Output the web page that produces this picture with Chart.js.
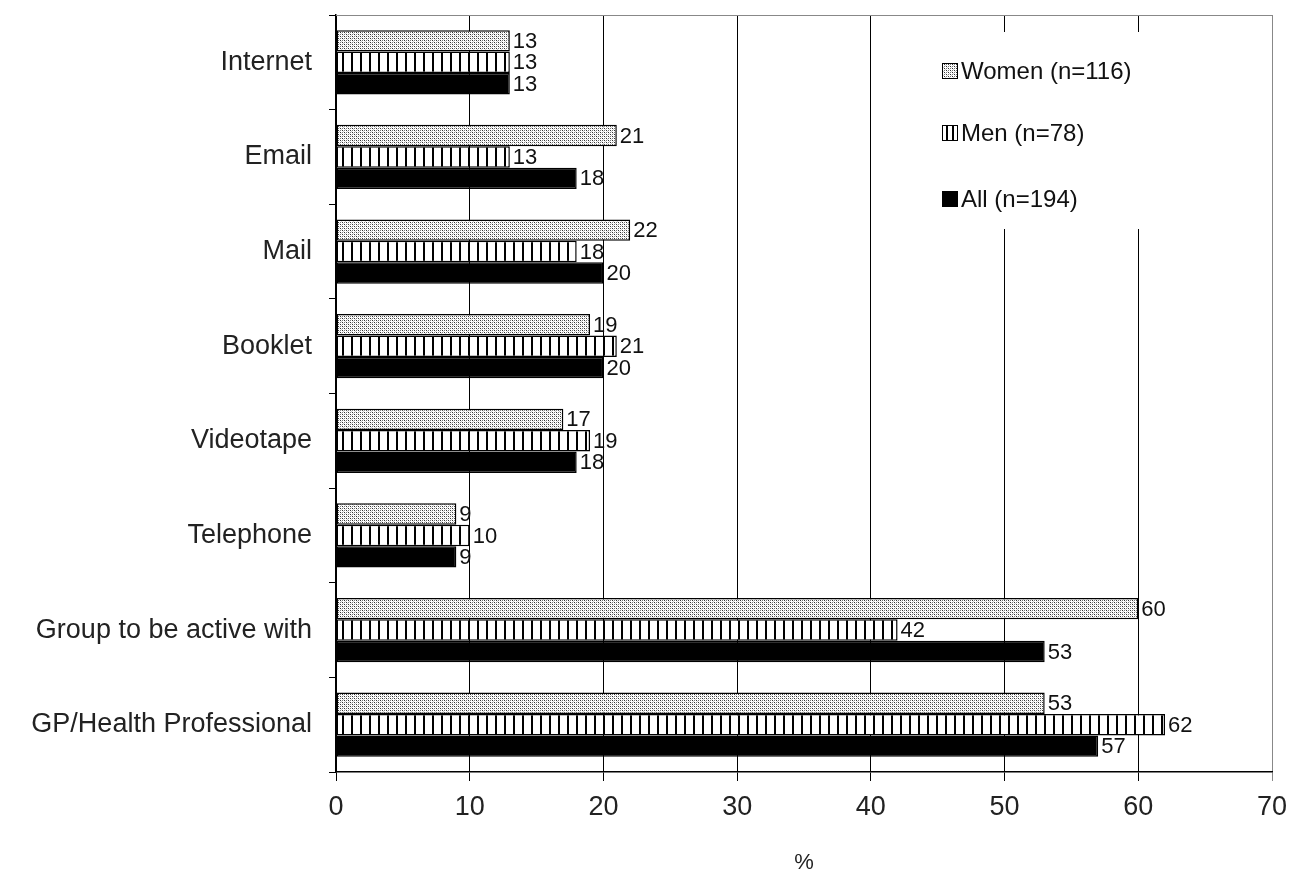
<!DOCTYPE html>
<html>
<head>
<meta charset="utf-8">
<script src="https://cdn.jsdelivr.net/npm/chart.js@4/dist/chart.umd.min.js"></script>
<style>
  body { margin: 0; background: #fff; }
  #wrap { width: 1292px; height: 876px; }
</style>
</head>
<body>
<div id="wrap"><canvas id="myChart" width="1292" height="876"></canvas></div>
<script>
// data
var categories = ["Internet", "Email", "Mail", "Booklet", "Videotape", "Telephone", "Group to be active with", "GP/Health Professional"];
var women = [13, 21, 22, 19, 17, 9, 60, 53];
var men = [13, 13, 18, 21, 19, 10, 42, 62];
var all = [13, 18, 20, 20, 18, 9, 53, 57];
var seriesLabels = ["Women (n=116)", "Men (n=78)", "All (n=194)"];
var xTicks = [0, 10, 20, 30, 40, 50, 60, 70];

var fontFam = "'Liberation Sans', Arial, sans-serif";

// fill patterns
function makePattern(kind) {
  var c = document.createElement("canvas");
  var g = c.getContext("2d");
  if (kind == "dots") {
    c.width = 4; c.height = 4;
    g.fillStyle = "#fff";
    g.fillRect(0, 0, 4, 4);
    g.fillStyle = "#333";
    g.fillRect(0, 0, 1, 1);
    g.fillRect(2, 2, 1, 1);
    g.fillStyle = "#777";
    g.fillRect(2, 0, 1, 1);
    g.fillRect(0, 2, 1, 1);
    g.fillStyle = "#ccc";
    g.fillRect(1, 1, 1, 1);
    g.fillRect(3, 3, 1, 1);
  } else {
    c.width = 9; c.height = 4;
    g.fillStyle = "#fff";
    g.fillRect(0, 0, 9, 4);
    g.fillStyle = "#000";
    g.fillRect(0, 0, 2, 4);
  }
  return document.createElement("canvas").getContext("2d").createPattern(c, "repeat");
}
var dotFill = makePattern("dots");
var stripeFill = makePattern("stripes");
var fills = [dotFill, "#fff", "#000"];

// value labels at bar ends
const barLabels = {
  id: "barLabels",
  afterDatasetsDraw(chart) {
    const ctx = chart.ctx;
    ctx.save();
    ctx.font = "22px " + fontFam;
    ctx.fillStyle = "#111";
    ctx.textBaseline = "middle";
    ctx.textAlign = "left";
    chart.data.datasets.forEach(function (ds, i) {
      chart.getDatasetMeta(i).data.forEach(function (el, j) {
        ctx.fillText(ds.data[j], el.x + 3, el.y + 1);
      });
    });
    ctx.restore();
  }
};

// frame top line + legend inside the plot
const frameLegend = {
  id: "frameLegend",
  afterDraw(chart) {
    const ctx = chart.ctx;
    const a = chart.chartArea;
    ctx.save();
    ctx.strokeStyle = "#888";
    ctx.lineWidth = 1;
    ctx.beginPath();
    ctx.moveTo(a.left, a.top + 0.5);
    ctx.lineTo(a.right, a.top + 0.5);
    ctx.stroke();

    // legend box, white, hides the grid lines behind it
    ctx.fillStyle = "#fff";
    ctx.fillRect(925, 32, 235, 197);

    var ys = [71, 133, 199];
    ctx.font = "24px " + fontFam;
    ctx.textBaseline = "middle";
    seriesLabels.forEach(function (lab, i) {
      ctx.fillStyle = fills[i];
      ctx.fillRect(942, ys[i] - 8, 16, 16);
      ctx.strokeStyle = "#000";
      ctx.lineWidth = 1;
      ctx.strokeRect(942.5, ys[i] - 7.5, 15, 15);
      if (i == 1) {
        // stripes in the Men swatch
        ctx.fillStyle = "#000";
        ctx.fillRect(946, ys[i] - 7, 2, 14);
        ctx.fillRect(952, ys[i] - 7, 2, 14);
      }
      ctx.fillStyle = "#111";
      ctx.fillText(lab, 961, ys[i] + 1);
    });
    ctx.restore();
  }
};

const ctx = document.getElementById("myChart");
new Chart(ctx, {
  type: "bar",
  data: {
    labels: categories,
    datasets: [
      { label: seriesLabels[0], data: women, backgroundColor: dotFill },
      { label: seriesLabels[1], data: men, backgroundColor: stripeFill },
      { label: seriesLabels[2], data: all, backgroundColor: "#000" },
    ],
  },
  options: {
    indexAxis: "y",
    responsive: false,
    animation: false,
    layout: { padding: { top: 15, right: 20, left: 0, bottom: 0 } },
    datasets: {
      bar: {
        borderColor: "#000",
        borderWidth: 1.5,
        borderSkipped: false,
        categoryPercentage: 0.68,
        barPercentage: 1.0,
      }
    },
    plugins: {
      legend: { display: false },
      tooltip: { enabled: false },
    },
    scales: {
      x: {
        min: 0,
        max: 70,
        afterBuildTicks: function (scale) {
          scale.ticks = xTicks.map(function (v) { return { value: v }; });
        },
        afterFit: function (scale) {
          scale.height = 104;
          scale.paddingLeft = 0;
          scale.paddingRight = 0;
        },
        grid: {
          color: function (c) { return c.tick && c.tick.value == 70 ? "#888" : "#000"; },
          lineWidth: 1,
          tickLength: 9,
        },
        border: { display: true, color: "#000", width: 1.5 },
        ticks: {
          padding: 10,
          color: "#222",
          font: { family: fontFam, size: 27 },
        },
        title: {
          display: true,
          text: "%",
          color: "#222",
          font: { family: fontFam, size: 22 },
          padding: { top: 0, bottom: 0 },
        },
      },
      y: {
        afterFit: function (scale) {
          scale.width = 336;
          scale.paddingTop = 0;
          scale.paddingBottom = 0;
        },
        grid: {
          drawOnChartArea: false,
          drawTicks: true,
          tickLength: 7,
          color: "#000",
        },
        border: { display: true, color: "#000", width: 1.5 },
        ticks: {
          padding: 17,
          color: "#222",
          font: { family: fontFam, size: 27 },
        },
      },
    },
  },
  plugins: [barLabels, frameLegend],
});
</script>
</body>
</html>
